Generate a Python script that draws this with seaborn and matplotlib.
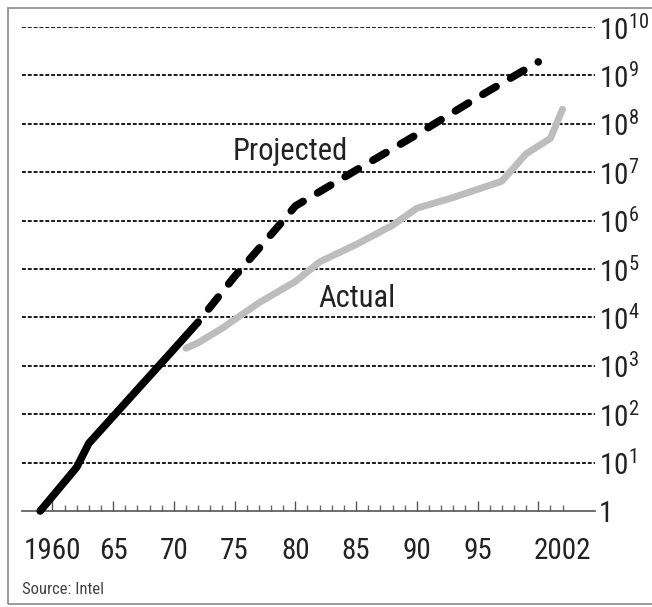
import numpy as np
import pandas as pd
import matplotlib
matplotlib.use("Agg")
import matplotlib.pyplot as plt
import seaborn as sns
from matplotlib.ticker import FixedLocator, NullFormatter, NullLocator
from matplotlib.patches import Rectangle

# ---------------------------
# DATA
# ---------------------------
# Projected (Moore's law): solid early part, dashed projection
proj_solid_years = [1959, 1962, 1963, 1965, 1970, 1972]
proj_solid_vals = [1, 8, 25, 90, 2200, 8000]
proj_dash_years = [1972, 1975, 1979, 1980, 1985, 1990, 1995, 2000]
proj_dash_vals = [8e3, 7e4, 1e6, 2e6, 1.1e7, 6e7, 3.5e8, 1.9e9]

# Actual transistor counts
actual_years = [1971, 1972, 1974, 1975, 1977, 1980, 1982, 1985, 1988,
                1990, 1993, 1997, 1999, 2001, 2002]
actual_vals = [2.3e3, 3e3, 6e3, 9e3, 2e4, 5.5e4, 1.4e5, 3.2e5, 8e5,
               1.8e6, 3e6, 6.5e6, 2.4e7, 5e7, 2e8]

x_label_pos = [1960, 1965, 1970, 1975, 1980, 1985, 1990, 1995, 2002]
x_labels = ["1960", "65", "70", "75", "80", "85", "90", "95", "2002"]
x_major = [1960, 1965, 1970, 1975, 1980, 1985, 1990, 1995, 2000]
x_minor = list(range(1960, 2003))

y_ticks = [10.0 ** k for k in range(0, 11)]
y_labels = ["1"] + ["10$^{%d}$" % k for k in range(1, 11)]

# ---------------------------
# STYLE
# ---------------------------
sns.set_theme(style="white")
fam = ['Roboto Condensed', 'Liberation Sans Narrow', 'Liberation Sans', 'DejaVu Sans']
plt.rcParams['font.family'] = fam
plt.rcParams['mathtext.fontset'] = 'custom'
plt.rcParams['mathtext.rm'] = 'Roboto Condensed'
plt.rcParams['mathtext.it'] = 'Roboto Condensed:italic'
plt.rcParams['mathtext.bf'] = 'Roboto Condensed:bold'

W, H = 652, 607
fig = plt.figure(figsize=(W / 100, H / 100), dpi=100)
ax = fig.add_axes([22 / W, 1 - 511 / H, (595 - 22) / W, (511 - 27) / H])
ax.set_yscale("log")

xlim = (1957.5, 2004.67)

# dashed grid lines for each decade
ax.hlines(y_ticks[1:], xlim[0], xlim[1], colors="#1a1a1a",
          linestyles=(0, (2, 1)), linewidth=1.4, zorder=1)

# ---------------------------
# LINES
# ---------------------------
actual_df = pd.DataFrame({"year": actual_years, "n": actual_vals})
sns.lineplot(data=actual_df, x="year", y="n", ax=ax, estimator=None,
             color="#bdbdbd", linewidth=5, solid_capstyle="round",
             solid_joinstyle="round", zorder=3)

solid_df = pd.DataFrame({"year": proj_solid_years, "n": proj_solid_vals})
sns.lineplot(data=solid_df, x="year", y="n", ax=ax, estimator=None,
             color="black", linewidth=5.5, solid_capstyle="round",
             solid_joinstyle="round", clip_on=False, zorder=4)

dash_df = pd.DataFrame({"year": proj_dash_years, "n": proj_dash_vals})
sns.lineplot(data=dash_df, x="year", y="n", ax=ax, estimator=None,
             color="black", linewidth=5.5, zorder=4)
dl = ax.lines[-1]
dl.set_linestyle((2.0, (2.0, 2.2)))
dl.set_dash_capstyle("round")

ax.text(1979.6, 10 ** 7.42, "Projected", ha="center", va="center",
        fontsize=22, color="#222222")
ax.text(1985.1, 10 ** 4.40, "Actual", ha="center", va="center",
        fontsize=22, color="#222222")

# ---------------------------
# AXES
# ---------------------------
ax.set_xlim(*xlim)
ax.set_ylim(1, 1e10)
ax.set_xlabel("")
ax.set_ylabel("")

for s in ["left", "top", "right"]:
    ax.spines[s].set_visible(False)
ax.spines["bottom"].set_color("#555555")
ax.spines["bottom"].set_linewidth(1.2)

ax.xaxis.set_major_locator(FixedLocator(x_major))
ax.xaxis.set_minor_locator(FixedLocator(x_minor))
ax.xaxis.set_major_formatter(NullFormatter())
ax.tick_params(axis="x", which="major", direction="in", length=7,
               width=1, color="#555555", bottom=True)
ax.tick_params(axis="x", which="minor", direction="in", length=4,
               width=1, color="#666666", bottom=True)

sec = ax.secondary_xaxis("bottom")
sec.set_xticks(x_label_pos, x_labels)
sec.tick_params(length=0, pad=19, labelsize=21, labelcolor="#222222")
sec.spines["bottom"].set_visible(False)

ax.yaxis.tick_right()
ax.set_yticks(y_ticks, y_labels)
ax.yaxis.set_minor_locator(NullLocator())
ax.tick_params(axis="y", which="both", length=0, pad=3, labelsize=21,
               labelcolor="#222222")

fig.text(22 / W, 1 - 590 / H, "Source: Intel", fontsize=12,
         color="#444444", va="center")

fig.patches.append(Rectangle((8 / W, 3 / H), 1.0, (H - 11) / H,
                             transform=fig.transFigure, fill=False,
                             edgecolor="#8a8a8a", linewidth=1.2))

fig.savefig("out.png", dpi=100)
